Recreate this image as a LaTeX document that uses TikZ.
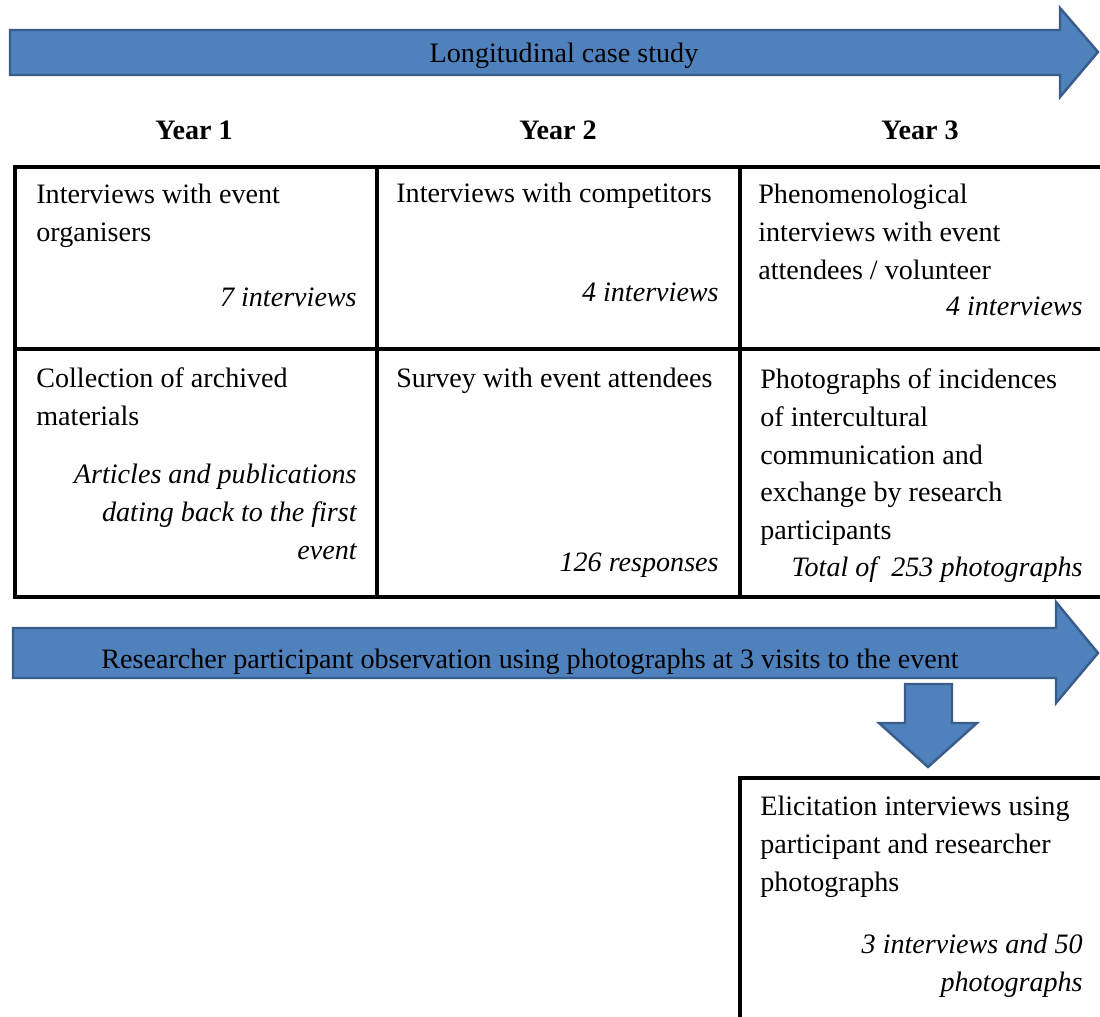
\documentclass[tikz,border=0pt]{standalone}
\usepackage{fontspec}
\setmainfont{Liberation Serif}
\usepackage{xcolor}
\definecolor{arrowfill}{HTML}{4F81BD}
\definecolor{arrowline}{HTML}{385D8A}

\begin{document}
\begin{tikzpicture}[x=0.02cm, y=-0.02cm, font=\fontsize{16}{21.6}\selectfont,
    blockarrow/.style={fill=arrowfill, draw=arrowline, line width=1.4pt, line join=miter},
    cellline/.style={draw=black, line width=2pt},
    celltext/.style={anchor=north west, inner sep=0pt, align=left},
    notetext/.style={anchor=north east, inner sep=0pt, align=right, font=\fontsize{16}{21.6}\selectfont\itshape},
    yearlbl/.style={anchor=base, inner sep=0pt, font=\fontsize{16}{21.6}\selectfont\bfseries}]
    \useasboundingbox (0,0) rectangle (1100,1017);

    \draw[blockarrow] (10,30) -- (1060,30) -- (1060,8) -- (1098,52) -- (1060,97) -- (1060,75) -- (10,75) -- cycle;
    \node[anchor=base, inner sep=0pt] (study) at (564,63) {Longitudinal case study};

    \node[yearlbl] (year1) at (194,140) {Year 1};
    \node[yearlbl] (year2) at (558,140) {Year 2};
    \node[yearlbl] (year3) at (920,140) {Year 3};

    \draw[cellline] (1100,167) -- (15,167) -- (15,597) -- (1100,597);
    \draw[cellline] (15,349) -- (1100,349);
    \draw[cellline] (377,167) -- (377,597);
    \draw[cellline] (740,167) -- (740,597);

    \node[celltext] (organisers) at (36,184) {Interviews with event\\organisers};
    \node[notetext] (organisersnote) at (357,288) {7 interviews};
    \node[celltext] (competitors) at (396,183) {Interviews with competitors};
    \node[notetext] (competitorsnote) at (719,283) {4 interviews};
    \node[celltext] (phenom) at (758,184) {Phenomenological\\interviews with event\\attendees / volunteer};
    \node[notetext] (phenomnote) at (1083,297) {4 interviews};

    \node[celltext] (archive) at (36,367) {Collection of archived\\materials};
    \node[notetext] (archivenote) at (357,464) {Articles and publications\\dating back to the first\\event};
    \node[celltext] (survey) at (396,368) {Survey with event attendees};
    \node[notetext] (surveynote) at (719,553) {126 responses};
    \node[celltext] (photos) at (760,368) {Photographs of incidences\\of intercultural\\communication and\\exchange by research\\participants};
    \node[notetext] (photosnote) at (1083,556) {Total of \ 253 photographs};

    \draw[blockarrow] (13,628) -- (1056,628) -- (1056,602) -- (1098,653) -- (1056,703) -- (1056,678) -- (13,678) -- cycle;
    \node[anchor=base, inner sep=0pt] (observe) at (530,668) {Researcher participant observation using photographs at 3 visits to the event};

    \draw[blockarrow] (905,684) -- (952,684) -- (952,723) -- (977,723) -- (928,767) -- (879,723) -- (905,723) -- cycle;

    \draw[cellline] (1100,778) -- (740,778) -- (740,1017);
    \node[celltext] (elicit) at (760,796) {Elicitation interviews using\\participant and researcher\\photographs};
    \node[notetext] (elicitnote) at (1083,934) {3 interviews and 50\\photographs};
\end{tikzpicture}
\end{document}
